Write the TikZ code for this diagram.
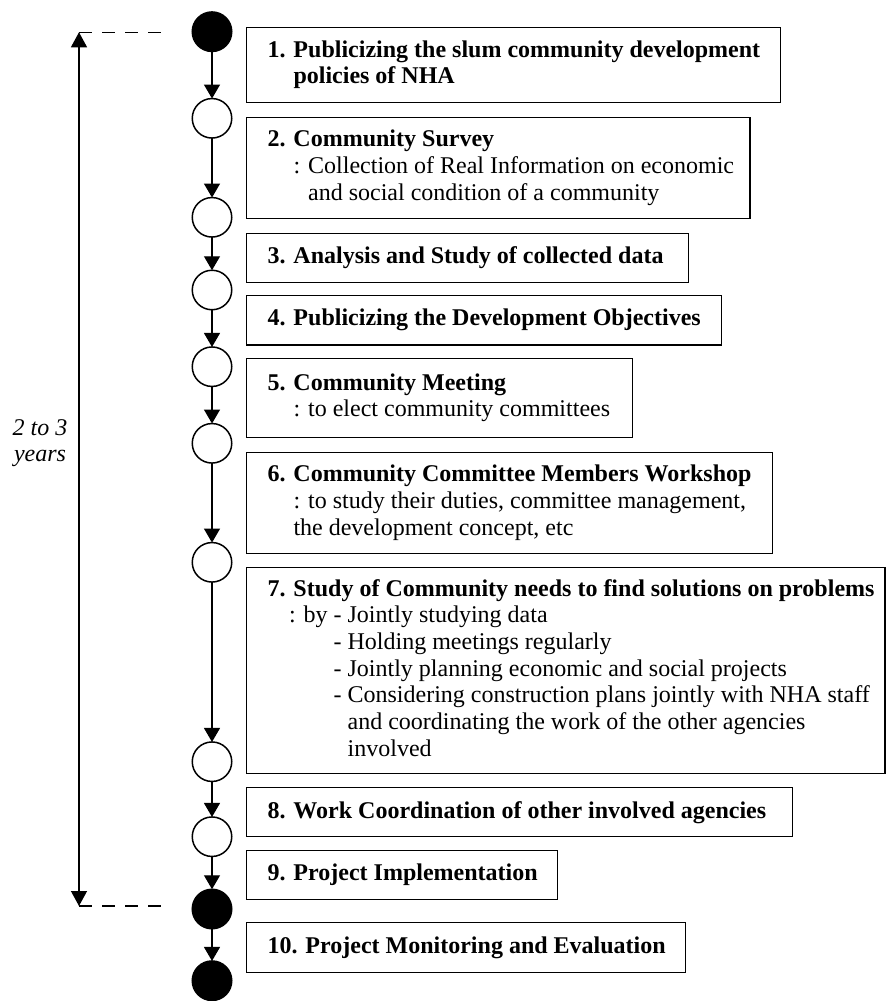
\documentclass[tikz,border=0pt]{standalone}
\usepackage{fontspec}
\setmainfont{Liberation Serif}
\usetikzlibrary{arrows.meta}
\newcommand\numgap{\phantom{\textbf{1. }}}
\begin{document}
\begin{tikzpicture}[x=1pt,y=-1pt,
  every node/.style={outer sep=0pt},
  stage/.style={circle, draw, line width=1.5pt, minimum size=39.5pt, inner sep=0pt, fill=white},
  milestone/.style={stage, fill=black},
  stepbox/.style={draw, line width=1.5pt, anchor=north west, inner sep=0pt},
  steptext/.style={anchor=west, align=left, inner sep=0pt, font=\fontsize{24}{26.7}\selectfont},
  flow/.style={line width=1.3pt, -{Triangle[width=16pt,length=14pt]}},
  span/.style={line width=1.3pt, {Triangle[width=16pt,length=15pt]}-{Triangle[width=16pt,length=15pt]}},
  guide/.style={line width=1.3pt, dash pattern=on 13pt off 10pt}
]
\useasboundingbox (0,0) rectangle (887,1001);

% stage markers along the process line
\node[milestone] (c1)  at (212,31.7)  {};
\node[stage]     (c2)  at (212,118.3) {};
\node[stage]     (c3)  at (212,217.3) {};
\node[stage]     (c4)  at (212,290)   {};
\node[stage]     (c5)  at (212,366.7) {};
\node[stage]     (c6)  at (212,443.3) {};
\node[stage]     (c7)  at (212,562.3) {};
\node[stage]     (c8)  at (212,761.7) {};
\node[stage]     (c9)  at (212,836.7) {};
\node[milestone] (c10) at (212,909)   {};
\node[milestone] (c11) at (212,980.7) {};

\foreach \a/\b in {c1/c2,c2/c3,c3/c4,c4/c5,c5/c6,c6/c7,c7/c8,c8/c9,c9/c10,c10/c11}
  \draw[flow] (\a) -- (\b);

% step boxes
\node[stepbox, minimum width=533.6pt, minimum height=75pt]   (b1)  at (246.7,27.3)  {};
\node[stepbox, minimum width=503.3pt, minimum height=101pt]  (b2)  at (246.7,117.3) {};
\node[stepbox, minimum width=441.6pt, minimum height=49.4pt] (b3)  at (246.7,233.3) {};
\node[stepbox, minimum width=474.6pt, minimum height=49.7pt] (b4)  at (246.7,295.3) {};
\node[stepbox, minimum width=386pt,   minimum height=79pt]   (b5)  at (246.7,358.3) {};
\node[stepbox, minimum width=526pt,   minimum height=101pt]  (b6)  at (246.7,452.3) {};
\node[stepbox, minimum width=638.3pt, minimum height=206pt]  (b7)  at (246.7,567.3) {};
\node[stepbox, minimum width=545.6pt, minimum height=49pt]   (b8)  at (246.7,787.7) {};
\node[stepbox, minimum width=310.6pt, minimum height=48.6pt] (b9)  at (246.7,850.7) {};
\node[stepbox, minimum width=439pt,   minimum height=49.6pt] (b10) at (246.7,922.7) {};

% step texts
\node[steptext] (t1) at ([xshift=20.8pt]b1.west)
  {\textbf{1. Publicizing the slum community development}\\
   \numgap\textbf{policies of NHA}};
\node[steptext] (t2) at ([xshift=20.8pt]b2.west)
  {\textbf{2. Community Survey}\\
   \numgap: Collection of Real Information on economic\\
   \numgap\phantom{: }and social condition of a community};
\node[steptext] (t3) at ([xshift=20.8pt]b3.west)
  {\textbf{3. Analysis and Study of collected data}};
\node[steptext] (t4) at ([xshift=20.8pt]b4.west)
  {\textbf{4. Publicizing the Development Objectives}};
\node[steptext] (t5) at ([xshift=20.8pt]b5.west)
  {\textbf{5. Community Meeting}\\
   \numgap: to elect community committees};
\node[steptext] (t6) at ([xshift=20.8pt]b6.west)
  {\textbf{6. Community Committee Members Workshop}\\
   \numgap: to study their duties, committee management,\\
   \numgap the development concept, etc};
\node[steptext] (t7) at ([xshift=20.8pt]b7.west)
  {\textbf{7. Study of Community needs to find solutions on problems}\\
   \hspace*{21.5pt}: by - Jointly studying data\\
   \hspace*{21.5pt}\phantom{: by }- Holding meetings regularly\\
   \hspace*{21.5pt}\phantom{: by }- Jointly planning economic and social projects\\
   \hspace*{21.5pt}\phantom{: by }- Considering construction plans jointly with NHA staff\\
   \hspace*{21.5pt}\phantom{: by - }and coordinating the work of the other agencies\\
   \hspace*{21.5pt}\phantom{: by - }involved};
\node[steptext] (t8) at ([xshift=20.8pt]b8.west)
  {\textbf{8. Work Coordination of other involved agencies}};
\node[steptext] (t9) at ([xshift=20.8pt]b9.west)
  {\textbf{9. Project Implementation}};
\node[steptext] (t10) at ([xshift=20.8pt]b10.west)
  {\textbf{10. Project Monitoring and Evaluation}};

% duration bracket
\coordinate (spanTop) at (79,32.3);
\coordinate (spanBot) at (79,906);
\coordinate (guideTop) at (161,32.3);
\coordinate (guideBot) at (161,906);
\draw[span] (spanTop) -- (spanBot);
\draw[guide] (spanTop) -- (guideTop);
\draw[guide] (spanBot) -- (guideBot);
\node[align=center, inner sep=0pt, font=\fontsize{24}{26.7}\selectfont\itshape] (dur) at (40,443) {2 to 3\\years};
\end{tikzpicture}
\end{document}
